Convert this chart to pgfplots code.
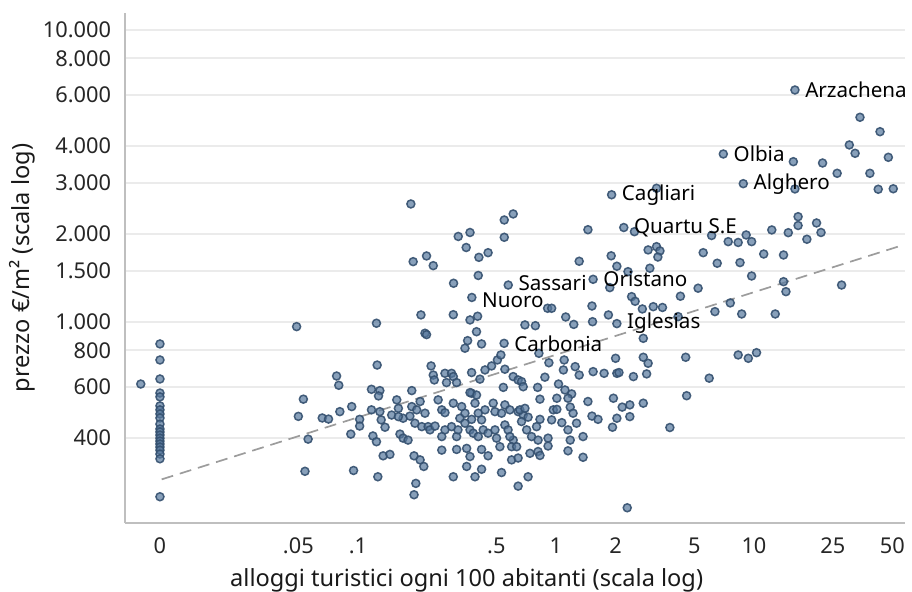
\documentclass[border=0pt]{standalone}
\usepackage{pgfplots}
\pgfplotsset{compat=1.18}
\usepackage{fontspec}
\setmainfont{Noto Sans}
\definecolor{ptfill}{HTML}{56779C}
\definecolor{ptedge}{HTML}{34506F}
\definecolor{axgray}{HTML}{BFBFBF}
\definecolor{gridgray}{HTML}{EBEBEB}
\definecolor{trend}{HTML}{9C9C9C}
\begin{document}
\begin{tikzpicture}
\begin{axis}[
  name=ax,
  at={(0,0)}, anchor=south west,
  scale only axis,
  width=390pt, height=255pt,
  xmode=log, ymode=log,
  xmin=0.00666, xmax=57.9,
  ymin=204.9, ymax=11435,
  axis lines*=left,
  axis line style={draw=axgray, line width=1pt},
  xtick={0.01,0.05,0.1,0.5,1,2,5,10,25,50},
  xticklabels={0,.05,.1,.5,1,2,5,10,25,50},
  ytick={400,600,800,1000,1500,2000,3000,4000,6000,8000,10000},
  yticklabels={400,600,800,1.000,1.500,2.000,3.000,4.000,6.000,8.000,10.000},
  minor xtick={}, minor ytick={},
  major tick length=0pt, minor tick length=0pt,
  tick style={draw=none},
  ymajorgrids,
  grid style={draw=gridgray, line width=1pt},
  tick label style={font=\fontsize{10.9}{12}\selectfont, text=black!85},
  x tick label style={yshift=-4pt},
  y tick label style={xshift=-3.4pt},
  xlabel={alloggi turistici ogni 100 abitanti (scala log)},
  xlabel style={at={(axis description cs:0.438,-0.112)}, anchor=center, font=\fontsize{11.8}{14}\selectfont, text=black!90},
  ylabel={prezzo €/m² (scala log)},
  ylabel style={at={(axis description cs:-0.132,0.5)}, anchor=center, font=\fontsize{11.8}{14}\selectfont, text=black!90},
  clip=false,
]
\addplot[only marks, mark=*, mark size=2pt,
  mark options={fill=ptfill, fill opacity=0.7, draw=ptedge, draw opacity=0.9, line width=0.75pt}]
table {
x y
0.01 841
0.01 741
0.01 638
0.01 571
0.01 554
0.01 516
0.01 500
0.01 484
0.01 469
0.01 447
0.01 430
0.01 420
0.01 410
0.01 400
0.01 391
0.01 382
0.01 373
0.01 364
0.01 353
0.01 340
0.01 252
0.008 613
0.049 964
0.053 544
0.050 475
0.056 397
0.054 308
0.066 469
0.071 465
0.078 653
0.080 607
0.081 493
0.093 513
0.092 413
0.095 310
0.124 990
0.218 915
0.222 905
0.397 926
0.358 863
0.347 813
0.421 841
0.125 712
0.234 707
0.240 658
0.243 633
0.275 667
0.297 667
0.303 650
0.280 620
0.315 620
0.375 671
0.413 637
0.438 685
0.473 707
0.506 741
0.527 771
0.552 689
0.608 650
0.644 633
0.117 588
0.129 582
0.127 558
0.187 582
0.542 597
0.375 570
0.397 562
0.102 464
0.102 440
0.117 500
0.129 493
0.131 462
0.137 436
0.148 480
0.157 541
0.160 506
0.169 468
0.160 474
0.187 513
0.198 500
0.206 534
0.218 487
0.183 476
0.194 450
0.210 438
0.226 438
0.231 427
0.254 541
0.265 500
0.275 489
0.303 527
0.334 513
0.347 487
0.327 468
0.368 573
0.390 527
0.375 464
0.405 487
0.421 462
0.438 500
0.482 527
0.492 493
0.531 487
0.552 520
0.585 500
0.644 493
0.683 480
0.245 440
0.275 427
0.265 405
0.297 438
0.315 405
0.320 427
0.347 450
0.368 427
0.382 416
0.405 405
0.429 427
0.454 416
0.492 427
0.501 400
0.552 444
0.573 427
0.608 394
0.585 405
0.163 413
0.169 400
0.179 394
0.119 407
0.124 389
0.265 364
0.315 366
0.354 369
0.368 346
0.421 366
0.454 348
0.521 374
0.597 374
0.597 337
0.644 342
0.134 348
0.145 352
0.192 348
0.206 337
0.215 320
0.126 295
0.196 280
0.192 256
0.303 295
0.354 320
0.390 295
0.421 313
0.531 305
0.644 274
2.76 879
2.00 751
2.76 757
2.92 722
4.52 757
0.820 781
0.921 725
1.10 741
1.09 685
1.25 703
1.31 658
1.54 676
1.75 667
2.03 667
2.08 671
2.46 650
2.87 664
0.879 647
0.670 625
0.683 600
0.808 597
1.03 613
1.11 585
1.20 567
0.830 544
1.01 548
1.15 548
1.45 534
1.95 548
2.16 511
2.36 520
2.76 527
4.57 559
0.657 500
0.697 506
0.723 472
0.830 464
0.969 500
1.01 502
1.18 511
1.22 487
1.52 476
1.63 464
2.03 468
2.36 474
1.93 436
3.76 435
0.670 456
0.798 438
0.951 462
1.07 452
1.27 450
0.711 427
0.753 405
0.812 394
0.912 400
0.912 376
1.15 427
1.18 394
1.15 362
1.37 405
0.633 374
0.739 355
0.812 360
0.830 349
1.37 344
0.723 295
2.29 231
0.185 2536
0.608 2344
0.548 2235
0.321 1963
0.368 2025
0.352 1799
0.408 1665
0.454 1727
0.548 1950
1.45 2070
0.190 1609
0.222 1683
0.240 1559
0.304 1357
0.405 1443
1.31 1614
1.90 1685
2.03 1552
2.31 1487
2.92 1765
3.22 1811
3.35 1751
3.27 1669
2.98 1528
1.87 1311
2.41 1221
2.51 1177
4.25 1225
5.22 1305
2.73 1108
3.10 1128
3.45 1121
4.14 1043
6.35 1085
7.59 1162
0.208 1057
0.303 1059
0.368 1016
0.402 1046
0.697 977
0.787 971
0.907 1114
0.951 1114
1.12 1040
1.23 981
1.52 1134
1.53 1002
1.84 1057
2.49 2038
3.22 2870
15.8 3540
22.2 3503
26.3 3230
32.4 3782
30.3 4039
38.5 3230
47.7 3664
34.3 5024
43.3 4484
42.4 2848
50.5 2859
16.1 2855
16.7 2294
16.7 2140
20.7 2183
21.8 2025
18.5 1920
14.9 2022
12.3 2066
9.13 1986
9.73 1884
8.32 1872
7.41 1884
6.11 1978
5.54 1727
6.52 1589
8.50 1597
9.73 1437
11.2 1709
14.1 1696
14.1 1374
14.5 1270
27.7 1338
8.67 1065
12.8 1065
8.32 771
9.36 751
10.3 785
5.94 642
};
\addplot[trend, dash pattern=on 6pt off 3.5pt, line width=0.85pt] coordinates {(0.0102,289) (54.6,1820)};
\addplot[only marks, mark=*, mark size=2pt,
  mark options={fill=ptfill, fill opacity=0.7, draw=ptedge, draw opacity=0.9, line width=0.75pt},
  point meta=explicit symbolic,
  visualization depends on={value \thisrow{dy} \as \labdy},
  nodes near coords,
  nodes near coords style={anchor=west, inner sep=0.5pt, xshift=4.3pt, yshift=\labdy pt, font=\fontsize{10.3}{11}\selectfont, text=black, text opacity=1}]
table[meta=label, col sep=comma] {
x,y,label,dy
16.1,6230,Arzachena,0
7.0,3761,Olbia,0
8.83,2976,Alghero,0
1.91,2727,Cagliari,0
2.20,2106,Quartu S.E,0
1.54,1400,Oristano,0
0.574,1338,Sassari,1.2
0.376,1213,Nuoro,-1.2
2.03,987,Iglesias,0
0.547,845,Carbonia,0
};
\end{axis}
\pgfresetboundingbox
\path (-62.5pt,-34.5pt) rectangle (393.5pt,261.5pt);
\end{tikzpicture}
\end{document}
